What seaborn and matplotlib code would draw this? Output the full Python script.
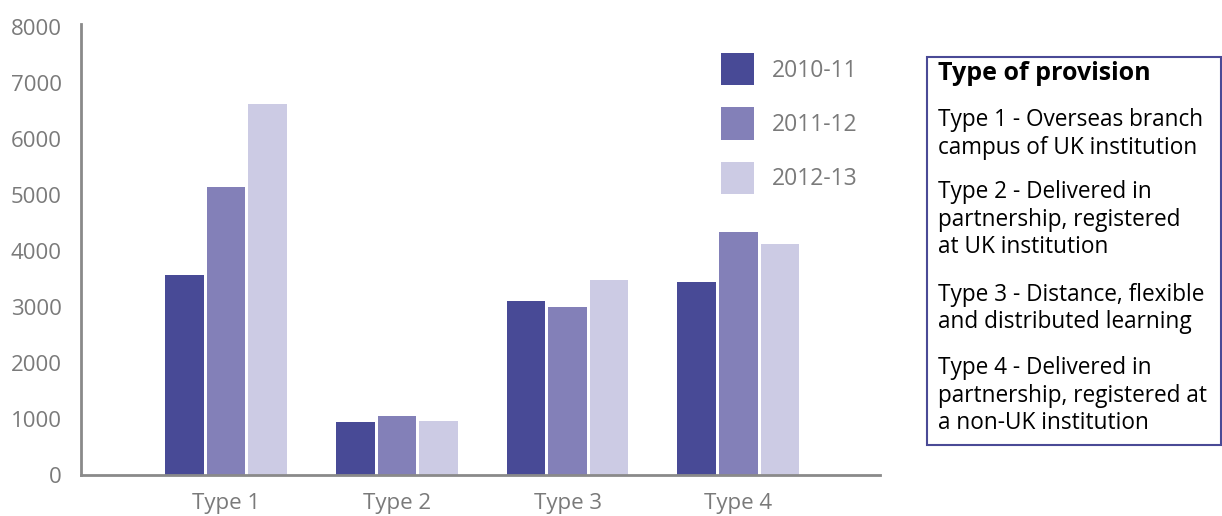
import matplotlib
matplotlib.use("Agg")
import matplotlib.pyplot as plt
import seaborn as sns
import pandas as pd
from matplotlib.patches import Rectangle

categories = ["Type 1", "Type 2", "Type 3", "Type 4"]
years = ["2010-11", "2011-12", "2012-13"]
values_2010_11 = [3570, 950, 3110, 3450]
values_2011_12 = [5140, 1055, 3000, 4340]
values_2012_13 = [6620, 965, 3480, 4130]
yticks = [0, 1000, 2000, 3000, 4000, 5000, 6000, 7000, 8000]
colors = ["#484a96", "#8380b8", "#cccbe4"]

box_title = "Type of provision"
box_items = [
    "Type 1 - Overseas branch\ncampus of UK institution",
    "Type 2 - Delivered in\npartnership, registered\nat UK institution",
    "Type 3 - Distance, flexible\nand distributed learning",
    "Type 4 - Delivered in\npartnership, registered at\na non-UK institution",
]

rows = []
for y, vals in zip(years, [values_2010_11, values_2011_12, values_2012_13]):
    for c, v in zip(categories, vals):
        rows.append({"type": c, "year": y, "value": v})
df = pd.DataFrame(rows)

sns.set_theme(style="white")
plt.rcParams["font.family"] = ["Open Sans", "DejaVu Sans"]

W, H = 1222, 516
fig = plt.figure(figsize=(W / 100, H / 100), dpi=100)
ax = fig.add_axes([81 / W, (H - 475) / H, (880 - 81) / W, (475 - 27) / H])

sns.barplot(data=df, x="type", y="value", hue="year", order=categories,
            hue_order=years, palette=colors, saturation=1, width=0.73,
            gap=0.07, linewidth=0, ax=ax, legend=True)

ax.set_ylim(0, 8000)
ax.set_xlim(-0.85, 3.83)
ax.set_yticks(yticks)
ax.set_yticklabels([str(t) for t in yticks])
ax.set_xlabel("")
ax.set_ylabel("")
grey = "#7a7a7a"
ax.tick_params(axis="both", length=0, labelsize=16, colors=grey)
ax.tick_params(axis="y", pad=14)
ax.tick_params(axis="x", pad=13)
for s in ["top", "right"]:
    ax.spines[s].set_visible(False)
for s in ["left", "bottom"]:
    ax.spines[s].set_color("#8a8a8a")
    ax.spines[s].set_linewidth(2)
ax.spines["left"].set_bounds(0, 8050)

handles, labels = ax.get_legend_handles_labels()
leg = ax.legend(handles, labels, loc="upper left",
                bbox_to_anchor=(721 / W, 1 - 53 / H), bbox_transform=fig.transFigure,
                frameon=False, fontsize=16.5, handlelength=1.44, handleheight=1.8,
                labelspacing=0.96, handletextpad=0.79, borderpad=0, borderaxespad=0)
for t in leg.get_texts():
    t.set_color(grey)

# provision box
fig.patches.append(Rectangle((927 / W, (H - 445) / H), (1221 - 927) / W, (445 - 57) / H,
                             transform=fig.transFigure, fill=False,
                             edgecolor="#4a4a96", linewidth=1.5))
fig.text(938 / W, 1 - 74 / H, box_title, fontsize=18, fontweight="bold",
         color="black", va="center", ha="left")
starts = [120, 192, 295, 368]
pitch = 27.5
for s, item in zip(starts, box_items):
    for i, line in enumerate(item.split("\n")):
        fig.text(938 / W, 1 - (s + i * pitch) / H, line, fontsize=16.3,
                 color="black", va="center", ha="left")

fig.savefig("out.png", dpi=100)
